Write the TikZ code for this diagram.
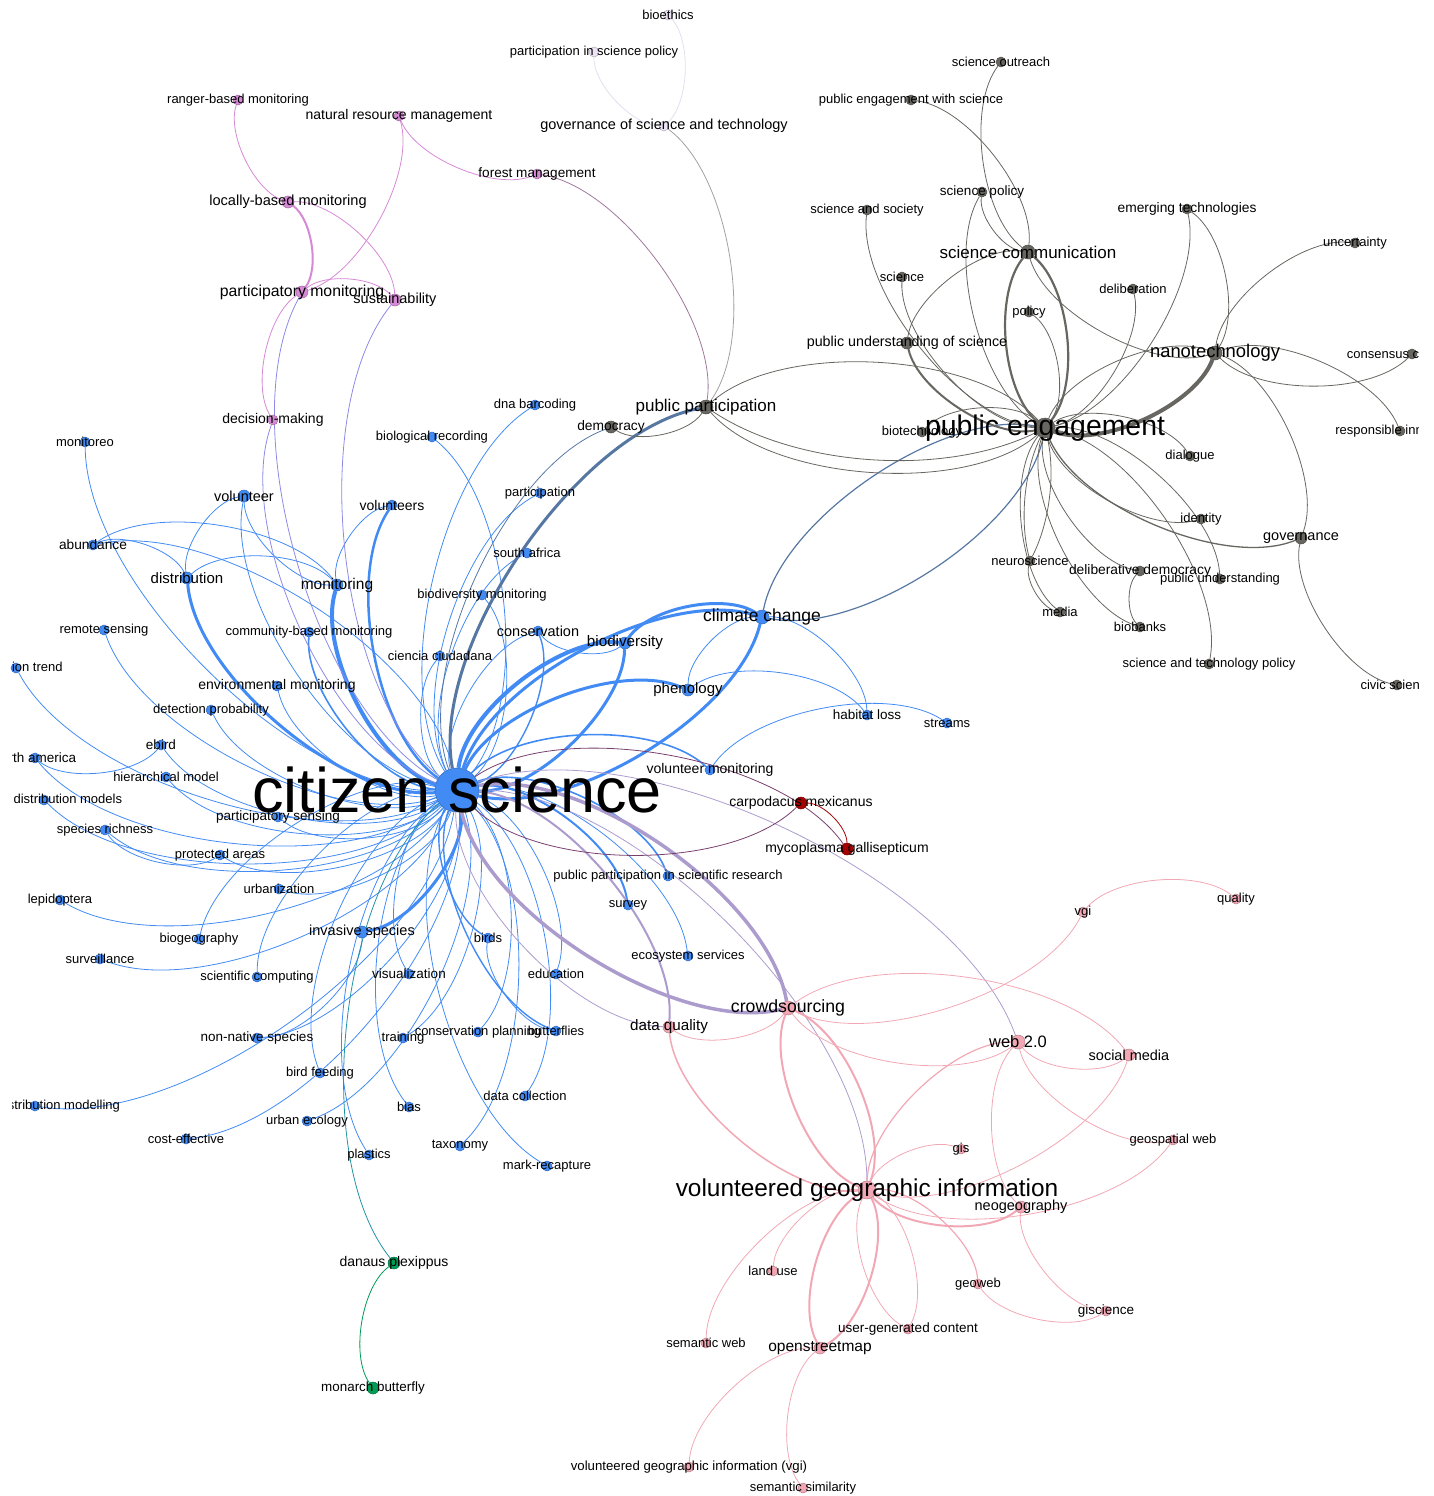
\documentclass[tikz,border=0pt]{standalone}
\usepackage{fontspec}
\setmainfont{Liberation Sans}
\pgfdeclarelayer{edges}
\pgfdeclarelayer{nodes}
\pgfsetlayers{edges,nodes,main}
\definecolor{cB}{RGB}{66,139,245}
\definecolor{cG}{RGB}{104,102,96}
\definecolor{cP}{RGB}{242,168,180}
\definecolor{cO}{RGB}{214,138,214}
\definecolor{cR}{RGB}{165,0,0}
\definecolor{cGr}{RGB}{0,155,85}
\definecolor{cL}{RGB}{236,228,246}
\tikzset{
  ed/.style={bend left=45, looseness=0.7225, line width=0.8pt},
  nlens/.style={bend left=20, looseness=0.8},
  eb/.style={draw=cB},
  eg/.style={draw=cG},
  ep/.style={draw=cP},
  eo/.style={draw=cO},
  er/.style={draw=cR},
  en/.style={draw=cGr},
  el/.style={draw=cL!85!black!20!cL},
  ebg/.style={draw=cB!45!cG},
  ebv/.style={draw=cB!50!cO},
  ela/.style={draw=cB!40!cP},
  epu/.style={draw=cB!45!cR},
  ete/.style={draw=cB!50!cGr},
  epg/.style={draw=cO!50!cG},
  elg/.style={draw=cL!45!cG},
  gnode/.style={circle, inner sep=0pt, line width=0.5pt},
  glabel/.style={inner sep=0pt, text=black}
}
\newcommand{\GN}[7]{%
  \begin{pgfonlayer}{nodes}\node[gnode, minimum size=#4*2pt, fill=#5, draw=#5!75!black] (#1) at (#2,-#3) {};\end{pgfonlayer}
  \node[glabel, font=\fontsize{#6}{#6}\selectfont] (#1-l) at (#2,-#3) {#7};}
\newcommand{\GE}[3][]{\draw[ed,#1] (#2) to (#3);}
\begin{document}
\begin{tikzpicture}[x=1pt,y=1pt]
\path[use as bounding box] (0,0) rectangle (1434,-1496);
\clip (12,5) rectangle (1418,-1496);
% ---------- blue cluster
\GN{cs}{457}{790}{22}{cB}{63}{citizen science}
\GN{mreo}{85}{442}{5}{cB}{13}{monitoreo}
\GN{vol}{244}{496}{6}{cB}{14.5}{volunteer}
\GN{vols}{392}{505}{5}{cB}{14}{volunteers}
\GN{abu}{93}{545}{5}{cB}{13.7}{abundance}
\GN{dist}{187}{578}{6}{cB}{15}{distribution}
\GN{mon}{337}{585}{6}{cB}{15.5}{monitoring}
\GN{rs}{104}{630}{5}{cB}{13}{remote sensing}
\GN{cbm}{309}{632}{5}{cB}{13}{community-based monitoring}
\GN{pt}{16}{668}{5}{cB}{13}{population trend}
\GN{env}{277}{686}{5}{cB}{14}{environmental monitoring}
\GN{dp}{211}{710}{5}{cB}{13}{detection probability}
\GN{ebird}{161}{745}{5}{cB}{13.5}{ebird}
\GN{na}{35}{758}{5}{cB}{13.5}{north america}
\GN{hm}{166}{777}{5}{cB}{13}{hierarchical model}
\GN{sdms}{44}{800}{5}{cB}{13}{species distribution models}
\GN{sr}{105}{830}{5}{cB}{13}{species richness}
\GN{ps}{278}{817}{5}{cB}{13.5}{participatory sensing}
\GN{pa}{220}{855}{5}{cB}{13}{protected areas}
\GN{urb}{279}{889}{5}{cB}{13}{urbanization}
\GN{lep}{60}{900}{5}{cB}{13}{lepidoptera}
\GN{biog}{199}{939}{5}{cB}{13}{biogeography}
\GN{surv}{100}{959}{5}{cB}{13}{surveillance}
\GN{scc}{257}{977}{5}{cB}{13}{scientific computing}
\GN{inv}{362}{932}{6}{cB}{14.5}{invasive species}
\GN{vis}{409}{974}{5}{cB}{13.5}{visualization}
\GN{nn}{257}{1038}{5}{cB}{13.5}{non-native species}
\GN{sdmg}{35}{1106}{5}{cB}{13}{species distribution modelling}
\GN{bf}{320}{1073}{5}{cB}{13}{bird feeding}
\GN{ce}{186}{1139}{5}{cB}{13}{cost-effective}
\GN{ue}{307}{1121}{5}{cB}{13}{urban ecology}
\GN{bias}{409}{1107}{5}{cB}{13}{bias}
\GN{plas}{369}{1155}{5}{cB}{13}{plastics}
\GN{train}{403}{1038}{5}{cB}{13}{training}
\GN{cp}{478}{1032}{5}{cB}{13}{conservation planning}
\GN{butt}{556}{1031}{5}{cB}{13}{butterflies}
\GN{dc}{525}{1096}{5}{cB}{13}{data collection}
\GN{tax}{460}{1146}{5}{cB}{13}{taxonomy}
\GN{mr}{547}{1166}{5}{cB}{13}{mark-recapture}
\GN{birds}{488}{938}{5}{cB}{13}{birds}
\GN{edu}{556}{974}{5}{cB}{13}{education}
\GN{survey}{628}{905}{5}{cB}{13}{survey}
\GN{es}{688}{956}{5}{cB}{13}{ecosystem services}
\GN{ppsr}{668}{876}{5}{cB}{13}{public participation in scientific research}
\GN{vm}{710}{770}{5}{cB}{14}{volunteer monitoring}
\GN{hl}{867}{715}{5}{cB}{13.5}{habitat loss}
\GN{streams}{947}{723}{5}{cB}{13}{streams}
\GN{phen}{688}{690}{6}{cB}{15}{phenology}
\GN{cc}{762}{617}{7}{cB}{17.5}{climate change}
\GN{bio}{625}{643}{6}{cB}{15.2}{biodiversity}
\GN{cons}{538}{631}{5}{cB}{14.5}{conservation}
\GN{cien}{440}{656}{5}{cB}{13}{ciencia ciudadana}
\GN{bm}{482}{595}{5}{cB}{13}{biodiversity monitoring}
\GN{sa}{527}{553}{5}{cB}{13}{south africa}
\GN{part}{540}{493}{5}{cB}{13}{participation}
\GN{dna}{535}{405}{5}{cB}{13}{dna barcoding}
\GN{br}{432}{437}{5}{cB}{13}{biological recording}
% ---------- gray cluster
\GN{pp}{706}{407}{7}{cG}{17}{public participation}
\GN{dem}{611}{427}{6}{cG}{13.8}{democracy}
\GN{pe}{1045}{428}{10}{cG}{28.4}{public engagement}
\GN{sc}{1028}{252}{7}{cG}{17}{science communication}
\GN{nano}{1215}{353}{7}{cG}{18.4}{nanotechnology}
\GN{so}{1001}{62}{5}{cG}{13}{science outreach}
\GN{pews}{911}{100}{5}{cG}{13}{public engagement with science}
\GN{sp}{982}{192}{5}{cG}{13.5}{science policy}
\GN{sas}{867}{210}{5}{cG}{13}{science and society}
\GN{et}{1187}{209}{5}{cG}{13.8}{emerging technologies}
\GN{unc}{1355}{243}{5}{cG}{13}{uncertainty}
\GN{sci}{902}{277}{5}{cG}{13}{science}
\GN{delib}{1133}{289}{5}{cG}{13}{deliberation}
\GN{pol}{1029}{312}{5}{cG}{13}{policy}
\GN{pus}{907}{343}{6}{cG}{14.3}{public understanding of science}
\GN{conc}{1412}{354}{5}{cG}{13}{consensus conference}
\GN{ri}{1400}{431}{5}{cG}{13}{responsible innovation}
\GN{biot}{922}{432}{5}{cG}{13}{biotechnology}
\GN{dial}{1190}{456}{5}{cG}{13}{dialogue}
\GN{ident}{1201}{519}{5}{cG}{13}{identity}
\GN{gov}{1301}{538}{6}{cG}{14.5}{governance}
\GN{neuro}{1030}{561}{5}{cG}{13}{neuroscience}
\GN{dd}{1140}{571}{5}{cG}{13.8}{deliberative democracy}
\GN{pu}{1220}{579}{5}{cG}{13}{public understanding}
\GN{media}{1060}{612}{5}{cG}{13}{media}
\GN{bb}{1140}{627}{5}{cG}{13}{biobanks}
\GN{stp}{1209}{664}{5}{cG}{13}{science and technology policy}
\GN{civ}{1397}{685}{5}{cG}{13}{civic science}
% ---------- purple cluster
\GN{pm}{302}{292}{6}{cO}{15.8}{participatory monitoring}
\GN{sus}{395}{300}{6}{cO}{14.5}{sustainability}
\GN{lbm}{288}{202}{6}{cO}{14.6}{locally-based monitoring}
\GN{rbm}{238}{100}{5}{cO}{13}{ranger-based monitoring}
\GN{nrm}{399}{116}{5}{cO}{14}{natural resource management}
\GN{fm}{537}{174}{5}{cO}{13.6}{forest management}
\GN{dm}{273}{420}{5}{cO}{14}{decision-making}
% ---------- lavender cluster
\GN{bioe}{668}{15}{5}{cL}{13}{bioethics}
\GN{psp}{594}{52}{5}{cL}{13}{participation in science policy}
\GN{gst}{664}{126}{5}{cL}{14.5}{governance of science and technology}
% ---------- pink cluster
\GN{cr}{788}{1008}{7}{cP}{17.7}{crowdsourcing}
\GN{dq}{669}{1027}{6}{cP}{15.2}{data quality}
\GN{vgi}{867}{1190}{9}{cP}{24.4}{volunteered geographic information}
\GN{web}{1018}{1042}{7}{cP}{16.5}{web 2.0}
\GN{sm}{1129}{1055}{6}{cP}{14.5}{social media}
\GN{vgis}{1083}{912}{5}{cP}{13}{vgi}
\GN{qual}{1236}{899}{5}{cP}{13}{quality}
\GN{gw}{1173}{1140}{5}{cP}{13}{geospatial web}
\GN{gis}{961}{1149}{5}{cP}{13}{gis}
\GN{neo}{1021}{1207}{6}{cP}{14.5}{neogeography}
\GN{lu}{773}{1271}{5}{cP}{13}{land use}
\GN{geoweb}{978}{1284}{5}{cP}{13}{geoweb}
\GN{gsci}{1106}{1311}{5}{cP}{13.5}{giscience}
\GN{ugc}{908}{1329}{5}{cP}{13.5}{user-generated content}
\GN{sw}{706}{1343}{5}{cP}{13}{semantic web}
\GN{osm}{820}{1348}{6}{cP}{15.5}{openstreetmap}
\GN{vgip}{689}{1467}{5}{cP}{13.2}{volunteered geographic information (vgi)}
\GN{ss}{803}{1488}{5}{cP}{13}{semantic similarity}
% ---------- red and green
\GN{carp}{801}{803}{6}{cR}{14}{carpodacus mexicanus}
\GN{myco}{847}{849}{6}{cR}{14}{mycoplasma gallisepticum}
\GN{dan}{394}{1263}{6}{cGr}{14}{danaus plexippus}
\GN{mon2}{373}{1388}{6}{cGr}{13.4}{monarch butterfly}
% ================= edges
\begin{pgfonlayer}{edges}
\begin{scope}[every path/.style={eb}]
\GE{cs}{mreo}
\GE{cs}{vol}
\GE[line width=2.5pt]{cs}{vols}
\GE[line width=3pt]{cs}{dist}
\GE[line width=4pt]{cs}{mon}
\GE{cs}{rs}
\GE[line width=1.6pt]{cs}{cbm}
\GE{cs}{pt}
\GE{cs}{env}
\GE{cs}{dp}
\GE{cs}{ebird}
\GE{cs}{na}
\GE{cs}{hm}
\GE{cs}{sdms}
\GE{cs}{sr}
\GE{cs}{ps}
\GE{cs}{pa}
\GE{cs}{urb}
\GE{cs}{lep}
\GE{cs}{surv}
\GE[line width=3pt]{cs}{inv}
\GE{cs}{nn}
\GE{cs}{sdmg}
\GE{cs}{ce}
\GE{cs}{ue}
\GE{cs}{train}
\GE{cs}{cp}
\GE{cs}{dc}
\GE{cs}{tax}
\GE{cs}{edu}
\GE[line width=2pt]{cs}{survey}
\GE{cs}{es}
\GE[line width=1.6pt]{cs}{ppsr}
\GE[line width=1.6pt]{cs}{vm}
\GE[line width=3pt]{cs}{phen}
\GE[line width=3pt]{cs}{cc}
\GE[line width=4pt]{cs}{bio}
\GE{cs}{cons}
\GE{cs}{cien}
\GE{cs}{part}
\GE{cs}{dna}
\GE{cs}{sa}
\GE{abu}{cs}
\GE{biog}{cs}
\GE{scc}{cs}
\GE{vis}{cs}
\GE{bf}{cs}
\GE{bias}{cs}
\GE{plas}{cs}
\GE[line width=1.4pt]{butt}{cs}
\GE{mr}{cs}
\GE[line width=1.4pt]{birds}{cs}
\GE[line width=3pt]{cc}{cs}
\GE[line width=3pt]{bio}{cs}
\GE[line width=1.4pt]{cons}{cs}
\GE{br}{cs}
\GE{bm}{cs}
\GE{dist}{vol}
\GE{mon}{vol}
\GE{mon}{vols}
\GE{abu}{dist}
\GE{abu}{mon}
\GE{dist}{mon}
\GE{ebird}{na}
\GE{pa}{sr}
\GE{inv}{nn}
\GE{bio}{cons}
\GE[line width=3pt]{bio}{cc}
\GE{phen}{cc}
\GE{phen}{hl}
\GE{cc}{hl}
\GE{vm}{streams}
\GE{butt}{birds}
\end{scope}
% mixed blue edges
\GE[ebg]{cs}{dem}
\GE[ebg, line width=3pt]{cs}{pp}
\GE[ebg, line width=1.2pt]{cc}{pe}
\GE[ebg, line width=1.2pt]{pe}{cc}
\GE[ebv]{cs}{pm}
\GE[ebv]{cs}{sus}
\GE[ebv]{cs}{dm}
\GE[ela, line width=3.5pt]{cs}{cr}
\GE[ela, line width=3.5pt]{cr}{cs}
\GE[ela, line width=2pt]{cs}{dq}
\GE[ela]{dq}{cs}
\GE[ela]{cs}{vgi}
\GE[ela]{cs}{web}
\GE[epu]{carp}{cs}
\GE[epu]{cs}{myco}
\GE[ete]{dan}{cs}
% purple
\GE[eo, line width=2pt]{lbm}{pm}
\GE[eo]{lbm}{rbm}
\GE[eo]{lbm}{sus}
\GE[eo]{nrm}{pm}
\GE[eo]{fm}{nrm}
\GE[eo]{pm}{sus}
\GE[eo]{dm}{pm}
\GE[epg]{fm}{pp}
\GE[elg]{gst}{pp}
\GE[el]{gst}{psp}
\GE[el]{bioe}{gst}
% gray
\begin{scope}[every path/.style={eg}]
\GE[line width=2.2pt]{pe}{sc}
\GE[line width=2.2pt]{sc}{pe}
\GE[line width=4pt]{nano}{pe}
\GE{pe}{nano}
\GE[line width=2pt]{pe}{pus}
\GE{pus}{sc}
\GE{pe}{sp}
\GE{sc}{sp}
\GE{sc}{so}
\GE{pews}{sc}
\GE{nano}{sc}
\GE{pe}{sas}
\GE{pe}{sci}
\GE{pol}{pe}
\GE{delib}{pe}
\GE{et}{pe}
\GE{et}{nano}
\GE{nano}{unc}
\GE{conc}{nano}
\GE{nano}{ri}
\GE{nano}{gov}
\GE[line width=1.3pt]{gov}{pe}
\GE{civ}{gov}
\GE{pe}{dial}
\GE{ident}{pe}
\GE{pe}{pu}
\GE{pe}{stp}
\GE{dd}{pe}
\GE{bb}{pe}
\GE{bb}{dd}
\GE[nlens]{pe}{neuro}
\GE[nlens]{neuro}{pe}
\GE{media}{pe}
\GE{media}{neuro}
\GE{pp}{pe}
\GE{pe}{pp}
\GE[bend left=30, looseness=0.8]{pe}{pp}
\GE{pp}{dem}
\GE{biot}{pe}
\end{scope}
% pink
\begin{scope}[every path/.style={ep}]
\GE[line width=2pt]{cr}{vgi}
\GE[line width=2pt]{vgi}{cr}
\GE{cr}{dq}
\GE[line width=1.5pt]{vgi}{dq}
\GE{vgis}{cr}
\GE{vgis}{qual}
\GE{cr}{sm}
\GE{web}{cr}
\GE{sm}{web}
\GE{gw}{web}
\GE[line width=1.2pt]{vgi}{web}
\GE{neo}{web}
\GE{sm}{vgi}
\GE{gw}{vgi}
\GE{vgi}{gis}
\GE[line width=2pt]{neo}{vgi}
\GE[line width=1.2pt]{vgi}{geoweb}
\GE{gsci}{geoweb}
\GE{gsci}{neo}
\GE{vgi}{ugc}
\GE{ugc}{vgi}
\GE[line width=2pt]{vgi}{osm}
\GE[line width=2pt]{osm}{vgi}
\GE{lu}{vgi}
\GE{sw}{vgi}
\GE{vgip}{osm}
\GE{ss}{osm}
\end{scope}
% red and green
\GE[er]{carp}{myco}
\GE[en]{mon2}{dan}
\end{pgfonlayer}
\end{tikzpicture}
\end{document}
